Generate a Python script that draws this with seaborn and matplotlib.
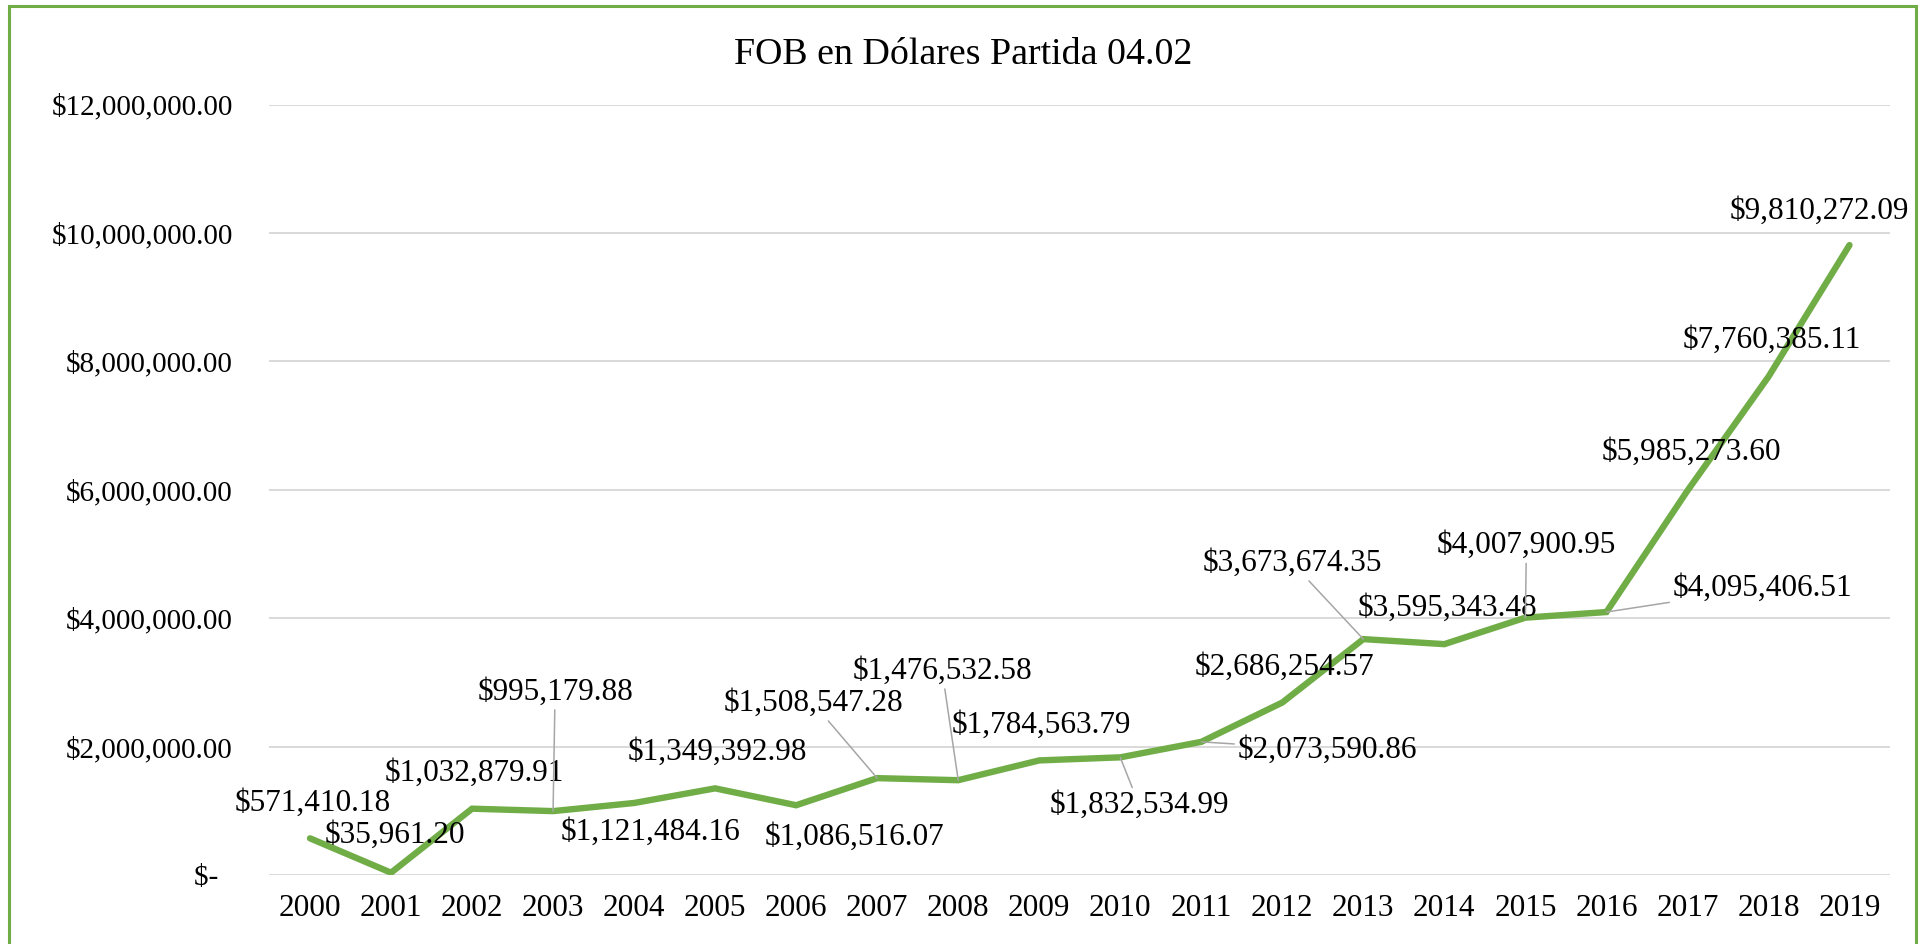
import pandas as pd
import matplotlib.pyplot as plt
import matplotlib.patches as mpatches
from matplotlib.ticker import FuncFormatter, MultipleLocator
import seaborn as sns

# Chart data
years = ['2000', '2001', '2002', '2003', '2004', '2005', '2006', '2007', '2008', '2009',
         '2010', '2011', '2012', '2013', '2014', '2015', '2016', '2017', '2018', '2019']
fob_usd = [571410.18, 35961.20, 1032879.91, 995179.88, 1121484.16, 1349392.98,
           1086516.07, 1508547.28, 1476532.58, 1784563.79, 1832534.99, 2073590.86,
           2686254.57, 3673674.35, 3595343.48, 4007900.95, 4095406.51, 5985273.60,
           7760385.11, 9810272.09]

# label offsets from each point (pixels), and whether a leader line is drawn
label_offsets = [(3, 35), (4, 37), (2, 35), (2, 119), (16, -29), (2, 36), (58, -32),
                 (-64, 75), (-16, 109), (2, 35), (19, -48), (126, -8), (2, 35),
                 (-71, 76), (3, 36), (1, 72), (156, 24), (4, 38), (3, 36), (-30, 34)]
leaders = [False, False, False, True, False, False, False, True, True, False,
           True, True, False, True, False, True, True, False, False, False]

data = pd.DataFrame({'Año': years, 'FOB': fob_usd})

sns.set_theme(style="white")
plt.rcParams['font.family'] = ['Liberation Serif', 'DejaVu Serif']

green = '#70AD47'

fig = plt.figure(figsize=(19.27, 9.44), dpi=100)
ax = fig.add_axes([0.13985, 0.07309, 0.84095, 0.81621])

sns.lineplot(data=data, x='Año', y='FOB', ax=ax, color=green, linewidth=4.6,
             sort=False, solid_capstyle='round', solid_joinstyle='miter')

ax.set_xlim(-0.5, len(years) - 0.5)
ax.set_ylim(0, 12000000)
ax.yaxis.set_major_locator(MultipleLocator(2000000))
ax.yaxis.set_major_formatter(FuncFormatter(
    lambda v, p: '$-  ' if v == 0 else '${:,.2f}'.format(v)))
ax.grid(axis='y', color='#D9D9D9', linewidth=1.4)
ax.set_axisbelow(True)
for s in ax.spines.values():
    s.set_visible(False)
ax.set_xlabel('')
ax.set_ylabel('')
ax.tick_params(axis='y', length=0, pad=26.5, labelsize=21, labelcolor='black')
ax.tick_params(axis='x', length=0, pad=14, labelsize=22.5, labelcolor='black')

# data labels
for i, v in enumerate(fob_usd):
    dx, dy = label_offsets[i]
    props = None
    if leaders[i]:
        props = dict(arrowstyle='-', color='#A6A6A6', linewidth=1.1,
                     shrinkA=0, shrinkB=0)
    ax.annotate('${:,.2f}'.format(v), xy=(i, v), xytext=(dx, dy),
                textcoords='offset pixels', ha='center', va='center',
                fontsize=22.5, color='black', arrowprops=props,
                annotation_clip=False)

fig.text(0.5, 1 - 64 / 944, 'FOB en Dólares Partida 04.02', ha='center',
         va='baseline', fontsize=27.3, color='black')

# green chart border
fig.patches.append(mpatches.Rectangle((8.5 / 1927, -0.05), (1915.5 - 8.5) / 1927,
                                      1.05 - 6 / 944, transform=fig.transFigure,
                                      fill=False, edgecolor=green, linewidth=2.2))

fig.savefig('out.png', dpi=100)
